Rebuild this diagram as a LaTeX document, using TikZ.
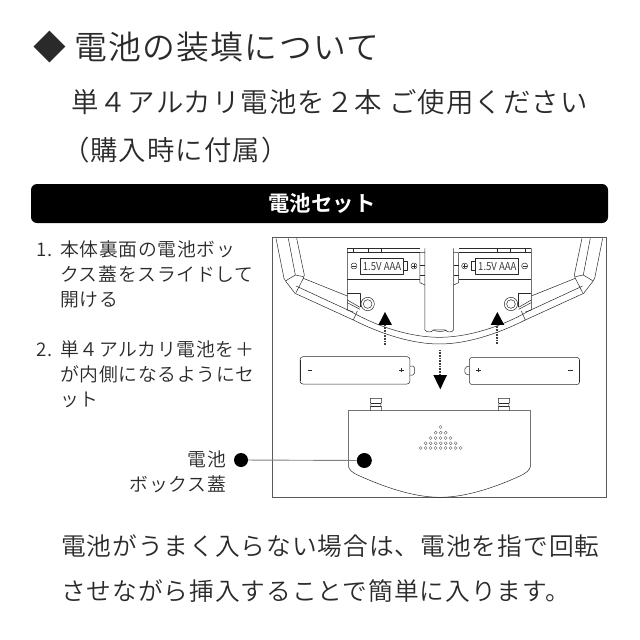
\documentclass[tikz,border=0pt]{standalone}
\usepackage{fontspec}
\newfontfamily\cjk[LetterSpace=4]{Noto Sans CJK JP DemiLight}
\newfontfamily\cjkb{Noto Sans CJK JP Bold}
\newfontfamily\cjksm{Noto Sans CJK JP DemiLight}
\definecolor{ink}{HTML}{2A2A2A}
\newcommand{\fs}[1]{\fontsize{#1}{#1}\selectfont}
\tikzset{
 txt/.style={anchor=base west,inner sep=0pt,outer sep=0pt,text=ink},
 big/.style={txt,font=\cjk\fs{32.8}},
 mid/.style={txt,font=\cjk\fs{27.4}},
 bot/.style={txt,font=\cjk\fs{24.7}},
 body/.style={txt,font=\cjk\fs{18.8}},
 part/.style={draw=ink,line width=0.5pt,line join=round},
 stem/.style={draw=black!75,line width=2.3pt,dash pattern=on 0.8pt off 0.8pt},
 dotb/.style={circle,fill=black,inner sep=0pt,minimum size=#1},
 holes/.style={draw=black!60,line width=0.4pt},
}
\newcommand{\halfshape}{
 % housing arm
 \draw[part] (18,25) -- (42,145) -- (48,155) -- (75,190) -- (250,270) .. controls (340,315) and (430,342) .. (508,342);
 \draw[part] (55,25) -- (76,135);
 \draw[part] (80,25) -- (103,135) -- (100,145) -- (232,198);
 \draw[part] (100,140) -- (76,135) -- (48,152);
 \draw[part] (100,145) -- (78,188);
 \draw[part] (78,168) -- (240,243) .. controls (330,295) and (430,322) .. (508,322);
 % compartment
 \draw[part] (232,55) -- (450,55) (232,68) -- (450,68);
 \draw[part] (250,55) -- (250,68) (295,55) -- (295,68) (335,55) -- (335,68);
 \draw[part] (232,55) -- (232,240) -- (250,246);
 \draw[part] (232,148) -- (450,148);
 \draw[part] (232,190) -- (272,190) -- (272,232);
 \draw[part] (232,210) -- (270,232) (232,218) -- (270,238);
 \draw[part] (250,270) -- (262,243);
 \draw[part] (272,85) rectangle (400,133);
 \draw[part] (400,95) rectangle (412,120);
 \draw[part] (252,108) circle (9);
 \draw[part] (246,108) -- (258,108);
 \draw[part] (432,108) circle (9);
 \draw[part] (426,108) -- (438,108) (432,102) -- (432,114);
 \draw[part] (293,222) circle (20) circle (13);
 % centre pillar side
 \draw[part] (465,55) -- (465,300) .. controls (470,308) and (485,308) .. (490,300) -- (508,300);
 \draw[part] (465,68) -- (450,68) -- (450,158) -- (465,165);
 \draw[part] (450,105) -- (465,105) (450,135) -- (465,135);
}
\newcommand{\tabshape}{
 \draw[part,fill=white] (301,182) -- (301,170) -- (303,170) -- (303,160) -- (301,158) -- (301,145) -- (335,145) -- (335,158) -- (333,160) -- (333,170) -- (335,170) -- (335,182);
 \draw[part] (303,160) -- (333,160) (303,170) -- (333,170);
}
\begin{document}
\begin{tikzpicture}[x=1pt,y=-1pt]
\useasboundingbox (0,0) rectangle (640,640);
\fill[white] (0,0) rectangle (640,640);
% headings
\node[big] (h1) at (33,59) {◆ 電池の装填について};
\node[mid] (h2) at (71,112) {単４アルカリ電池を２本 ご使用ください};
\node[mid] (h3) at (62,160) {（購入時に付属）};
% bar
\node[fill=black,rounded corners=6pt,minimum width=577pt,minimum height=39pt,inner sep=0pt] (bar) at (319.5,203.5) {};
\node[inner sep=0pt,text=white,font=\cjkb\fs{21.4}] (bart) at (322,203.5) {電池セット};
% steps
\node[body] (n1) at (36.5,256) {1.};
\node[body] (s1a) at (60,256) {本体裏面の電池ボッ};
\node[body] (s1b) at (60,281) {クス蓋をスライドして};
\node[body] (s1c) at (60,306) {開ける};
\node[body] (n2) at (36,356) {2.};
\node[body] (s2a) at (60,356) {単４アルカリ電池を＋};
\node[body] (s2b) at (60,381) {が内側になるようにセ};
\node[body] (s2c) at (60,406) {ット};
% label
\node[txt,font=\cjk\fs{18.8},anchor=base east] (l1) at (226,466) {電池};
\node[txt,font=\cjk\fs{18.8},anchor=base east] (l2) at (226,491) {ボックス蓋};
% frame
\draw[draw=black!65,line width=1pt] (272,237.5) rectangle (606,497);
% bottom text
\node[bot] (b1) at (61,555) {電池がうまく入らない場合は、電池を指で回転};
\node[bot] (b2) at (61,600) {させながら挿入することで簡単に入ります。};
% upper illustration, in the coordinates of a 3x crop at (270,230)
\begin{scope}[shift={(270,230)},x=0.3333pt,y=-0.3333pt]
 \halfshape
 \begin{scope}[shift={(1016,0)},xscale=-1]
  \halfshape
 \end{scope}
 \draw[part] (490,300) .. controls (500,306) and (520,306) .. (530,300);
 \node[inner sep=0pt,font=\cjksm\fs{11},text=ink,xscale=0.88] (lab1) at (336,110) {1.5V AAA};
 \node[inner sep=0pt,font=\cjksm\fs{11},text=ink,xscale=0.88] (lab2) at (682,110) {1.5V AAA};
 % arrows up
 \coordinate (ua1) at (345,345); \coordinate (ua2) at (345,285);
 \coordinate (ub1) at (682,342); \coordinate (ub2) at (682,285);
 \draw[stem] (ua1) -- (ua2);
 \draw[stem] (ub1) -- (ub2);
 \fill[black] (345,246) -- (366,285) -- (325,285) -- cycle;
 \fill[black] (682,246) -- (703,285) -- (662,285) -- cycle;
\end{scope}
% lower illustration, in the coordinates of a 3x crop at (270,350)
\begin{scope}[shift={(270,350)},x=0.3333pt,y=-0.3333pt]
 \coordinate (da2) at (510,75);
 \draw[stem] (510,0) -- (da2);
 \fill[black] (490,75) -- (531,75) -- (511,118) -- cycle;
 % batteries
 \draw[part,rounded corners=3pt] (90,20) rectangle (420,102);
 \draw[draw=ink,line width=0.9pt] (90,29) -- (90,93);
 \draw[part,rounded corners=1.5pt] (420,48) -- (433,48) -- (433,75) -- (420,75);
 \draw[part] (113,60) -- (127,60);
 \draw[part] (388,60) -- (402,60) (395,53) -- (395,67);
 \draw[part,rounded corners=3pt] (598,22) rectangle (929,104);
 \draw[draw=ink,line width=0.9pt] (929,31) -- (929,95);
 \draw[part,rounded corners=1.5pt] (598,48) -- (585,52) -- (585,72) -- (598,75);
 \draw[part] (895,60) -- (909,60);
 \draw[part] (618,60) -- (632,60) (625,53) -- (625,67);
 % lid
 \tabshape
 \begin{scope}[shift={(384,0)}]\tabshape\end{scope}
 \draw[part] (235,182) -- (782,182) -- (782,348) .. controls (778,362) and (770,368) .. (750,378)
   .. controls (680,410) and (590,442) .. (510,442) .. controls (430,442) and (340,410) .. (265,376)
   .. controls (245,367) and (238,360) .. (235,348) -- cycle;
 % vent dots
 \foreach \yy/\n in {231/0,248/1,264/2,280/3,294/4}{
  \foreach \k in {-\n,...,\n}{
   \draw[holes] ({512+15*\k},\yy) circle (4.6);
  }
 }
\end{scope}
% leader between the two dots
\node[dotb=14pt] (d1) at (241,460) {};
\node[dotb=15pt] (d2) at (364.3,460.5) {};
\draw[draw=black!50,line width=0.9pt] (d1) -- (d2);
\end{tikzpicture}
\end{document}
